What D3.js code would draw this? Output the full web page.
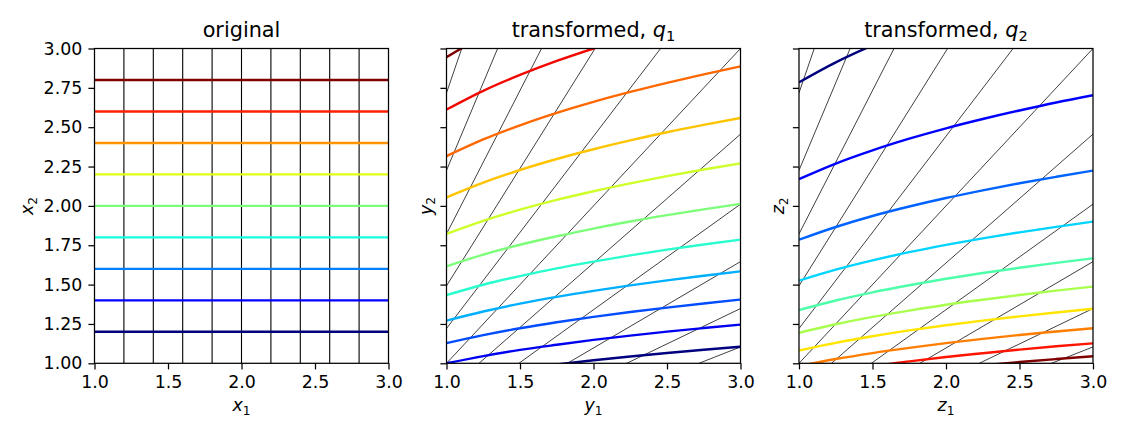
<!DOCTYPE html>
<html>
<head>
<meta charset="utf-8">
<script src="https://cdn.jsdelivr.net/npm/d3@7"></script>
<style>
  html, body { margin: 0; padding: 0; background: #fff; }
  svg { display: block; font-family: "DejaVu Sans", sans-serif; }
</style>
</head>
<body>
<svg id="chart" width="1125" height="437"></svg>
<script>
// ---------------- data ----------------
const xTicks = [1.0, 1.5, 2.0, 2.5, 3.0];
const yTicks = [1.0, 1.25, 1.5, 1.75, 2.0, 2.25, 2.5, 2.75, 3.0];

// panel 1: horizontal coloured lines (x2 levels) and vertical black lines (x1 levels)
const origLevels = [1.2, 1.4, 1.6, 1.8, 2.0, 2.2, 2.4, 2.6, 2.8];
const origColors = ["#00007f", "#0000ff", "#0080ff", "#15ffe2", "#7bff7b", "#e2ff15", "#ff9400", "#ff1e00", "#7f0000"];
const origGridX1 = [1.2, 1.4, 1.6, 1.8, 2.0, 2.2, 2.4, 2.6, 2.8];

// panels 2 and 3: thin black straight lines, given by their height at the left (y=1) and right (y=3) edges
const rayAtLeft  = [0.368, 0.449, 0.549, 0.670, 0.819, 1.000, 1.221, 1.492, 1.822, 2.226, 2.718];
const rayAtRight = [1.104, 1.348, 1.646, 2.011, 2.456, 3.000, 3.664, 4.476, 5.466, 6.677, 8.155];

// horizontal sample positions for the coloured curves
const sampleH = [1.0, 1.25, 1.5, 1.75, 2.0, 2.25, 2.5, 2.75, 3.0];

// panel 2 (transformed, q1): curve heights at sampleH
const q1Values = [
  [0.887, 0.927, 0.962, 0.992, 1.019, 1.043, 1.065, 1.086, 1.105],
  [1.000, 1.046, 1.085, 1.118, 1.149, 1.176, 1.201, 1.224, 1.246],
  [1.128, 1.179, 1.223, 1.261, 1.295, 1.326, 1.354, 1.380, 1.405],
  [1.271, 1.329, 1.379, 1.422, 1.460, 1.495, 1.527, 1.556, 1.584],
  [1.433, 1.499, 1.554, 1.603, 1.646, 1.686, 1.722, 1.755, 1.786],
  [1.616, 1.690, 1.753, 1.807, 1.856, 1.901, 1.941, 1.978, 2.013],
  [1.822, 1.905, 1.976, 2.038, 2.093, 2.143, 2.189, 2.231, 2.270],
  [2.054, 2.148, 2.228, 2.298, 2.360, 2.416, 2.468, 2.515, 2.559],
  [2.316, 2.422, 2.512, 2.591, 2.661, 2.724, 2.782, 2.836, 2.886],
  [2.612, 2.731, 2.832, 2.921, 3.000, 3.072, 3.137, 3.197, 3.253],
  [2.945, 3.079, 3.194, 3.293, 3.383, 3.463, 3.537, 3.605, 3.668]
];
const q1Colors = ["#00007f", "#0000f1", "#004cff", "#00b0ff", "#29ffce", "#7dff7a", "#ceff29", "#ffc400", "#ff6800", "#f10800", "#7f0000"];

// panel 3 (transformed, q2): curve heights at sampleH
const q2Values = [
  [2.785, 2.912, 3.020, 3.115, 3.199, 3.275, 3.345, 3.409, 3.469],
  [2.170, 2.269, 2.353, 2.427, 2.493, 2.552, 2.606, 2.657, 2.703],
  [1.785, 1.866, 1.936, 1.996, 2.050, 2.099, 2.144, 2.185, 2.224],
  [1.525, 1.595, 1.654, 1.706, 1.752, 1.794, 1.832, 1.867, 1.900],
  [1.338, 1.399, 1.451, 1.496, 1.537, 1.574, 1.607, 1.638, 1.667],
  [1.194, 1.248, 1.295, 1.335, 1.372, 1.404, 1.434, 1.462, 1.487],
  [1.081, 1.130, 1.172, 1.209, 1.242, 1.271, 1.298, 1.323, 1.347],
  [0.982, 1.027, 1.065, 1.098, 1.128, 1.155, 1.180, 1.202, 1.223],
  [0.905, 0.946, 0.982, 1.012, 1.040, 1.064, 1.087, 1.108, 1.127],
  [0.839, 0.877, 0.910, 0.938, 0.964, 0.987, 1.008, 1.027, 1.045]
];
const q2Colors = ["#00007f", "#0000ff", "#0063ff", "#00d4ff", "#4dffa9", "#a9ff4d", "#ffe500", "#ff7d00", "#ff1400", "#7f0000"];

const panelTitles = [
  [{t: "original"}],
  [{t: "transformed, "}, {t: "q", it: true}, {t: "1", sub: true}],
  [{t: "transformed, "}, {t: "q", it: true}, {t: "2", sub: true}]
];
const xLabels = [["x", "1"], ["y", "1"], ["z", "1"]];
const yLabels = [["x", "2"], ["y", "2"], ["z", "2"]];

// ---------------- layout ----------------
const svg = d3.select("#chart");
const panelLeft = [94.5, 446.5, 799.0];
const pw = 294, plotTop = 48.5, plotBottom = 363.3;
const tickLen = 6.1, tickPad = 6.1, fs = 17.4;

panelLeft.forEach((left, p) => {
  const x = d3.scaleLinear().domain([1, 3]).range([left, left + pw]);
  const y = d3.scaleLinear().domain([1, 3]).range([plotBottom, plotTop]);
  const g = svg.append("g");

  const clipId = "clip" + p;
  svg.append("defs").append("clipPath").attr("id", clipId)
    .append("rect").attr("x", left).attr("y", plotTop).attr("width", pw).attr("height", plotBottom - plotTop);

  const plot = g.append("g").attr("clip-path", `url(#${clipId})`);

  if (p === 0) {
    plot.selectAll("line.v").data(origGridX1).enter().append("line")
      .attr("x1", d => x(d)).attr("x2", d => x(d))
      .attr("y1", y(1)).attr("y2", y(3))
      .attr("stroke", "#000").attr("stroke-width", 1.1);
    plot.selectAll("line.h").data(origLevels).enter().append("line")
      .attr("x1", x(1)).attr("x2", x(3))
      .attr("y1", d => y(d)).attr("y2", d => y(d))
      .attr("stroke", (d, i) => origColors[i]).attr("stroke-width", 2.4);
  } else {
    plot.selectAll("line.r").data(d3.range(rayAtLeft.length)).enter().append("line")
      .attr("x1", x(1)).attr("x2", x(3))
      .attr("y1", i => y(rayAtLeft[i])).attr("y2", i => y(rayAtRight[i]))
      .attr("stroke", "#000").attr("stroke-width", 0.75);
    const vals = p === 1 ? q1Values : q2Values;
    const cols = p === 1 ? q1Colors : q2Colors;
    const line = d3.line().x((d, i) => x(sampleH[i])).y(d => y(d)).curve(d3.curveMonotoneX);
    plot.selectAll("path.c").data(vals).enter().append("path")
      .attr("d", d => line(d))
      .attr("fill", "none")
      .attr("stroke", (d, i) => cols[i]).attr("stroke-width", 2.4);
  }

  // axes
  const xa = g.append("g").attr("transform", `translate(0,${plotBottom})`)
    .call(d3.axisBottom(x).tickValues(xTicks).tickFormat(d3.format(".1f"))
      .tickSize(tickLen).tickPadding(tickPad).tickSizeOuter(0));
  const ya = g.append("g").attr("transform", `translate(${left},0)`)
    .call(d3.axisLeft(y).tickValues(yTicks).tickFormat(p === 0 ? d3.format(".2f") : () => "")
      .tickSize(tickLen).tickPadding(tickPad).tickSizeOuter(0));
  [xa, ya].forEach(a => {
    a.select(".domain").remove();
    a.selectAll("line").attr("stroke", "#000").attr("stroke-width", 1.25);
    a.selectAll("text").attr("font-size", fs).attr("fill", "#000")
      .attr("font-family", "DejaVu Sans, sans-serif");
  });
  xa.selectAll("text").attr("dy", "0.73em");

  // frame
  g.append("rect").attr("x", left).attr("y", plotTop).attr("width", pw).attr("height", plotBottom - plotTop)
    .attr("fill", "none").attr("stroke", "#000").attr("stroke-width", 1.25);

  // title
  const tt = g.append("text").attr("x", left + pw / 2).attr("y", 37)
    .attr("text-anchor", "middle").attr("font-size", 20.8).attr("fill", "#000");
  panelTitles[p].forEach(s => {
    const ts = tt.append("tspan").text(s.t);
    if (s.it) ts.attr("font-style", "italic");
    if (s.sub) ts.attr("font-size", 14.6).attr("dy", 4.2);
  });

  // x label
  const xl = g.append("text").attr("x", left + pw / 2).attr("y", 411)
    .attr("text-anchor", "middle").attr("font-size", fs).attr("fill", "#000");
  xl.append("tspan").attr("font-style", "italic").text(xLabels[p][0]);
  xl.append("tspan").attr("font-size", 12.2).attr("dy", 3.5).text(xLabels[p][1]);

  // y label
  const yl = g.append("text")
    .attr("transform", `translate(${p === 0 ? 33 : left - 15},${(plotTop + plotBottom) / 2}) rotate(-90)`)
    .attr("text-anchor", "middle").attr("font-size", fs).attr("fill", "#000");
  yl.append("tspan").attr("font-style", "italic").text(yLabels[p][0]);
  yl.append("tspan").attr("font-size", 12.2).attr("dy", 3.5).text(yLabels[p][1]);
});
</script>
</body>
</html>
